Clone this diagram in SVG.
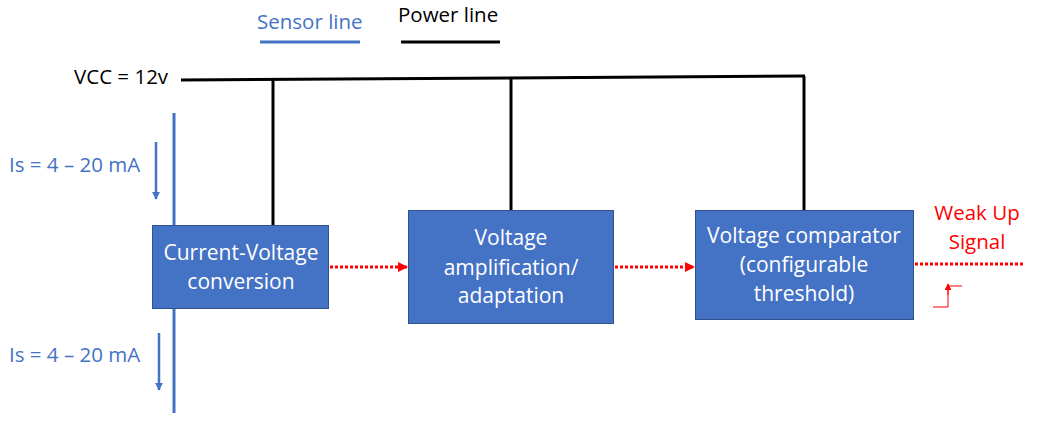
<svg xmlns="http://www.w3.org/2000/svg" width="1041" height="429" viewBox="0 0 1041 429">
<style>
text{font-family:"Open Sans","Liberation Sans",sans-serif;font-size:20.5px}
.box{fill:#4472C4;stroke:#2F528F;stroke-width:1}
.bt{fill:#fff;text-anchor:middle;font-size:21px}
.blue{fill:#4472C4}
.red{fill:#FF0000}
.pw{stroke:#000;stroke-width:3;fill:none}
.sn{stroke:#4472C4;stroke-width:3;fill:none}
.sig{stroke:#FF0000;stroke-width:3;stroke-dasharray:3 2;fill:none}
</style>
<defs>
<marker id="ar" viewBox="0 0 10 10" refX="9" refY="5" markerWidth="3.3" markerHeight="3.3" orient="auto"><path d="M0,0L10,5L0,10z" fill="#FF0000"/></marker>
<marker id="ab" viewBox="0 0 10 10" refX="9" refY="5" markerWidth="3.3" markerHeight="3.3" orient="auto"><path d="M0,0L10,5L0,10z" fill="#4472C4"/></marker>
<marker id="ar2" viewBox="0 0 10 10" refX="9" refY="5" markerWidth="7" markerHeight="7" orient="auto"><path d="M0,0L10,5L0,10z" fill="#FF0000"/></marker>
</defs>
<g id="legend">
<text x="257" y="29" class="blue">Sensor line</text>
<line x1="260" y1="42" x2="360" y2="42" class="sn"/>
<text x="398" y="22" fill="#000">Power line</text>
<line x1="401" y1="42" x2="500" y2="42" class="pw"/>
</g>
<g id="labels">
<text x="74" y="84" fill="#000">VCC = 12v</text>
<text x="9" y="172" class="blue">Is = 4 – 20 mA</text>
<text x="9" y="362" class="blue">Is = 4 – 20 mA</text>
<text x="977" y="220" class="red" text-anchor="middle">Weak Up</text>
<text x="977" y="249" class="red" text-anchor="middle">Signal</text>
</g>
<g id="connectors">
<polyline points="181,80 805,76" class="pw"/>
<line x1="273" y1="80" x2="273" y2="225" class="pw"/>
<line x1="511" y1="79" x2="511" y2="210" class="pw"/>
<line x1="804" y1="76" x2="804" y2="210" class="pw"/>
<line x1="174" y1="113" x2="174" y2="413" class="sn"/>
<line x1="156" y1="142" x2="156" y2="199" stroke="#4472C4" stroke-width="2.5" marker-end="url(#ab)"/>
<line x1="159" y1="333" x2="159" y2="390" stroke="#4472C4" stroke-width="2.5" marker-end="url(#ab)"/>
<line x1="330" y1="267" x2="407" y2="267" class="sig" marker-end="url(#ar)"/>
<line x1="615" y1="267" x2="694" y2="267" class="sig" marker-end="url(#ar)"/>
<line x1="915" y1="264" x2="1024" y2="264" class="sig"/>
<polyline points="933,307 948,307 948,286 962,286" fill="none" stroke="#FF0000" stroke-width="1"/>
<line x1="948" y1="295" x2="948" y2="284" stroke="#FF0000" stroke-width="1" marker-end="url(#ar2)"/>
</g>
<g id="node-cv">
<rect x="152.5" y="225.5" width="176" height="83" class="box"/>
<text x="241" y="260" class="bt">Current-Voltage</text>
<text x="241" y="289" class="bt">conversion</text>
</g>
<g id="node-amp">
<rect x="408.5" y="210.5" width="205" height="113" class="box"/>
<text x="511" y="245" class="bt">Voltage</text>
<text x="511" y="275" class="bt">amplification/</text>
<text x="511" y="303" class="bt">adaptation</text>
</g>
<g id="node-cmp">
<rect x="695.5" y="210.5" width="218" height="109" class="box"/>
<text x="804" y="243" class="bt">Voltage comparator</text>
<text x="804" y="272" class="bt">(configurable</text>
<text x="804" y="301" class="bt">threshold)</text>
</g>
</svg>
